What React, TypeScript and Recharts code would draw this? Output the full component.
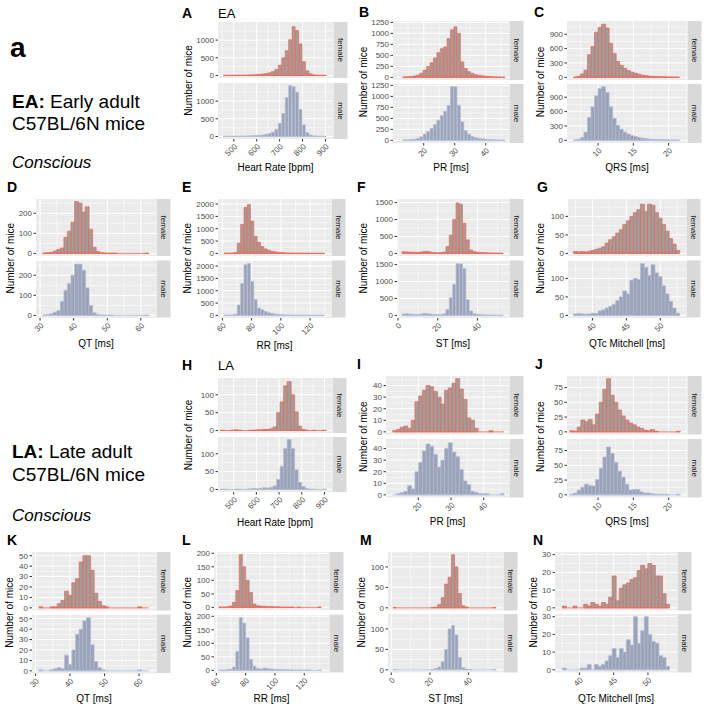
import React from "react";
import { BarChart, Bar, XAxis, YAxis, CartesianGrid, ReferenceLine } from "recharts";

// bin centres (ggplot, 30 bins) and counts
const hrEaBins = [462, 477, 492, 507, 522, 537, 552, 567, 582, 597, 612, 627, 642, 657, 672, 687, 702, 717, 732, 747, 762, 777, 792, 807, 822, 837, 852, 867, 882, 897];
const hrEaFemale = [4, 5, 5, 6, 8, 10, 12, 15, 18, 22, 30, 40, 55, 75, 110, 170, 290, 500, 700, 1010, 1380, 1270, 890, 390, 130, 45, 15, 8, 5, 3];
const hrEaMale = [4, 5, 5, 6, 8, 10, 12, 15, 20, 25, 32, 42, 58, 80, 120, 200, 370, 650, 1100, 1440, 1410, 1250, 760, 330, 110, 40, 15, 8, 5, 3];

const prEaBins = [13.8, 14.9, 16, 17.1, 18.2, 19.3, 20.4, 21.5, 22.6, 23.7, 24.8, 25.9, 27, 28.1, 29.2, 30.3, 31.4, 32.5, 33.6, 34.7, 35.8, 36.9, 38, 39.1, 40.2, 41.3, 42.4, 43.5, 44.6, 45.7];
const prEaFemale = [8, 12, 20, 30, 50, 95, 165, 245, 330, 440, 560, 650, 690, 880, 1080, 1150, 1000, 350, 200, 130, 90, 60, 45, 35, 25, 18, 12, 8, 5, 3];
const prEaMale = [8, 10, 15, 25, 45, 80, 140, 200, 270, 360, 460, 560, 660, 790, 1220, 1220, 800, 420, 220, 140, 90, 60, 45, 35, 25, 18, 12, 8, 5, 3];

const qrsEaBins = [6.75, 7.25, 7.75, 8.25, 8.75, 9.25, 9.75, 10.25, 10.75, 11.25, 11.75, 12.25, 12.75, 13.25, 13.75, 14.25, 14.75, 15.25, 15.75, 16.25, 16.75, 17.25, 17.75, 18.25, 18.75, 19.25, 19.75, 20.25, 20.75, 21.25];
const qrsEaFemale = [5, 20, 70, 150, 470, 640, 940, 1040, 1110, 1030, 710, 500, 330, 250, 190, 140, 110, 85, 65, 45, 35, 25, 20, 15, 12, 10, 8, 6, 5, 4];
const qrsEaMale = [5, 20, 60, 170, 480, 700, 930, 1080, 1120, 1000, 700, 460, 310, 230, 170, 130, 100, 80, 60, 45, 35, 25, 20, 15, 12, 10, 8, 6, 5, 4];

const qtEaBins = [31.33, 32.38, 33.43, 34.48, 35.53, 36.58, 37.63, 38.68, 39.73, 40.78, 41.83, 42.88, 43.93, 44.98, 46.03, 47.08, 48.13, 49.18, 50.23, 51.28, 52.33, 53.38, 54.43, 55.48, 56.53, 57.58, 58.63, 59.68, 60.73, 61.78];
const qtEaFemale = [2, 3, 5, 12, 20, 27, 80, 110, 155, 258, 250, 205, 232, 120, 30, 10, 4, 2, 1, 1, 1, 0, 0, 0, 0, 0, 0, 0, 0, 1];
const qtEaMale = [2, 4, 8, 16, 24, 70, 125, 158, 200, 255, 255, 225, 137, 50, 13, 5, 2, 1, 1, 1, 0, 0, 0, 0, 0, 0, 0, 0, 0, 1];

const rrEaBins = [62.15, 64.45, 66.75, 69.05, 71.35, 73.65, 75.95, 78.25, 80.55, 82.85, 85.15, 87.45, 89.75, 92.05, 94.35, 96.65, 98.95, 101.25, 103.55, 105.85, 108.15, 110.45, 112.75, 115.05, 117.35, 119.65, 121.95, 124.25, 126.55, 128.85];
const rrEaFemale = [5, 8, 15, 40, 415, 1170, 1860, 1980, 1310, 690, 455, 275, 180, 125, 85, 60, 40, 30, 20, 15, 12, 10, 8, 6, 5, 4, 3, 3, 2, 2];
const rrEaMale = [5, 8, 15, 50, 420, 1290, 2050, 2100, 1380, 640, 300, 230, 160, 110, 80, 55, 40, 30, 20, 15, 12, 10, 8, 6, 5, 4, 3, 3, 2, 2];

const stEaBins = [2.85, 4.55, 6.25, 7.95, 9.65, 11.35, 13.05, 14.75, 16.45, 18.15, 19.85, 21.55, 23.25, 24.95, 26.65, 28.35, 30.05, 31.75, 33.45, 35.15, 36.85, 38.55, 40.25, 41.95, 43.65, 45.35, 47.05, 48.75, 50.45, 52.15];
const stEaFemale = [50, 45, 40, 35, 30, 35, 55, 60, 45, 30, 20, 20, 40, 200, 540, 1000, 1490, 1450, 890, 400, 100, 50, 35, 25, 20, 15, 12, 10, 8, 6];
const stEaMale = [40, 50, 40, 30, 25, 40, 60, 55, 40, 25, 20, 20, 50, 180, 520, 910, 1530, 1520, 1380, 460, 130, 50, 35, 25, 18, 14, 10, 8, 6, 5];

const qtcEaBins = [37.46, 37.98, 38.5, 39.02, 39.54, 40.06, 40.58, 41.1, 41.62, 42.14, 42.66, 43.18, 43.7, 44.22, 44.74, 45.26, 45.78, 46.3, 46.82, 47.34, 47.86, 48.38, 48.9, 49.42, 49.94, 50.46, 50.98, 51.5, 52.02, 52.54];
const qtcEaFemale = [5, 4, 5, 4, 6, 8, 11, 14, 18, 28, 37, 45, 55, 64, 78, 88, 100, 110, 118, 133, 113, 133, 130, 110, 95, 78, 60, 40, 25, 8];
const qtcEaMale = [4, 5, 4, 3, 4, 6, 5, 12, 15, 20, 25, 30, 40, 50, 66, 58, 95, 100, 97, 140, 130, 108, 137, 115, 105, 80, 58, 38, 20, 6];

const hrLaBins = [448.75, 464.25, 479.75, 495.25, 510.75, 526.25, 541.75, 557.25, 572.75, 588.25, 603.75, 619.25, 634.75, 650.25, 665.75, 681.25, 696.75, 712.25, 727.75, 743.25, 758.75, 774.25, 789.75, 805.25, 820.75, 836.25, 851.75, 867.25, 882.75, 898.25];
const hrLaFemale = [1, 0, 0, 1, 2, 1, 0, 0, 1, 1, 2, 2, 3, 3, 5, 10, 50, 80, 125, 137, 100, 52, 12, 3, 1, 0, 1, 0, 0, 1];
const hrLaMale = [1, 1, 0, 0, 1, 1, 0, 1, 2, 3, 2, 3, 5, 4, 6, 10, 28, 65, 115, 140, 115, 55, 20, 8, 3, 1, 1, 0, 0, 1];

const prLaBins = [12.77, 13.9, 15.03, 16.16, 17.29, 18.42, 19.55, 20.68, 21.81, 22.94, 24.07, 25.2, 26.33, 27.46, 28.59, 29.72, 30.85, 31.98, 33.11, 34.24, 35.37, 36.5, 37.63, 38.76, 39.89, 41.02, 42.15, 43.28, 44.41, 45.54];
const prLaFemale = [1, 2, 4, 5, 3, 10, 26, 31, 36, 40, 39, 35, 30, 24, 36, 38, 42, 46, 37, 28, 12, 10, 3, 0, 0, 0, 1, 0, 0, 0];
const prLaMale = [0, 1, 2, 3, 8, 5, 20, 28, 38, 44, 42, 35, 24, 30, 40, 45, 37, 33, 22, 12, 9, 3, 2, 1, 1, 1, 0, 0, 0, 1];

const qrsLaBins = [6.26, 6.78, 7.3, 7.82, 8.34, 8.86, 9.38, 9.9, 10.42, 10.94, 11.46, 11.98, 12.5, 13.02, 13.54, 14.06, 14.58, 15.1, 15.62, 16.14, 16.66, 17.18, 17.7, 18.22, 18.74, 19.26, 19.78, 20.3, 20.82, 21.34];
const qrsLaFemale = [2, 1, 8, 20, 17, 21, 12, 30, 50, 72, 90, 62, 50, 37, 27, 20, 15, 12, 8, 6, 3, 2, 4, 1, 0, 0, 0, 0, 0, 1];
const qrsLaMale = [1, 3, 8, 13, 18, 16, 15, 26, 45, 64, 81, 70, 55, 40, 30, 18, 8, 9, 9, 5, 3, 3, 2, 1, 1, 1, 1, 0, 0, 1];

const qtLaBins = [31.53, 32.59, 33.65, 34.71, 35.77, 36.83, 37.89, 38.95, 40.01, 41.07, 42.13, 43.19, 44.25, 45.31, 46.37, 47.43, 48.49, 49.55, 50.61, 51.67, 52.73, 53.79, 54.85, 55.91, 56.97, 58.03, 59.09, 60.15, 61.21, 62.27];
const qtLaFemale = [1, 0, 0, 1, 1, 4, 7, 16, 12, 24, 28, 44, 50, 50, 36, 14, 6, 2, 1, 0, 0, 0, 0, 0, 0, 0, 0, 1, 0, 0];
const qtLaMale = [1, 0, 0, 1, 2, 3, 2, 15, 6, 20, 35, 40, 48, 51, 25, 9, 3, 1, 0, 0, 0, 0, 0, 0, 0, 0, 0, 1, 0, 0];

const rrLaBins = [62.77, 65.11, 67.45, 69.79, 72.13, 74.47, 76.81, 79.15, 81.49, 83.83, 86.17, 88.51, 90.85, 93.19, 95.53, 97.87, 100.21, 102.55, 104.89, 107.23, 109.57, 111.91, 114.25, 116.59, 118.93, 121.27, 123.61, 125.95, 128.29, 130.63];
const rrLaFemale = [1, 1, 2, 5, 18, 62, 195, 150, 100, 55, 12, 6, 5, 4, 3, 3, 2, 2, 1, 1, 1, 1, 0, 1, 0, 0, 0, 0, 0, 1];
const rrLaMale = [1, 1, 2, 4, 12, 70, 195, 175, 120, 40, 15, 7, 5, 8, 6, 5, 4, 3, 3, 2, 2, 2, 1, 1, 1, 1, 1, 0, 0, 1];

const stLaBins = [1.79, 3.57, 5.35, 7.13, 8.91, 10.69, 12.47, 14.25, 16.03, 17.81, 19.59, 21.37, 23.15, 24.93, 26.71, 28.49, 30.27, 32.05, 33.83, 35.61, 37.39, 39.17, 40.95, 42.73, 44.51, 46.29, 48.07, 49.85, 51.63, 53.41];
const stLaFemale = [1, 0, 0, 0, 0, 0, 0, 0, 0, 0, 0, 1, 2, 8, 25, 58, 75, 130, 100, 35, 5, 2, 0, 0, 0, 0, 0, 0, 0, 1];
const stLaMale = [1, 0, 0, 0, 0, 0, 0, 0, 0, 0, 0, 1, 3, 7, 20, 50, 100, 108, 85, 30, 5, 2, 1, 0, 0, 0, 0, 0, 0, 1];

const qtcLaBins = [37.76, 38.28, 38.8, 39.32, 39.84, 40.36, 40.88, 41.4, 41.92, 42.44, 42.96, 43.48, 44, 44.52, 45.04, 45.56, 46.08, 46.6, 47.12, 47.64, 48.16, 48.68, 49.2, 49.72, 50.24, 50.76, 51.28, 51.8, 52.32, 52.84];
const qtcLaFemale = [1, 0, 0, 1, 0, 0, 2, 1, 3, 2, 1, 3, 2, 6, 18, 4, 11, 13, 14, 16, 17, 21, 24, 22, 25, 24, 18, 18, 8, 2];
const qtcLaMale = [1, 0, 0, 0, 0, 1, 1, 3, 0, 3, 2, 3, 5, 8, 12, 7, 12, 10, 17, 14, 30, 15, 22, 30, 20, 16, 15, 8, 7, 2];

// axis ticks
const hrTicks = [500, 600, 700, 800, 900];
const prTicks = [20, 30, 40];
const qrsTicks = [10, 15, 20];
const qtTicks = [30, 40, 50, 60];
const rrTicks = [60, 80, 100, 120];
const stTicks = [0, 20, 40];
const qtcTicks = [40, 45, 50];

const Y_W = 30;
const PAD = 6;
const STRIP_W = 14;
const FONT = '"Liberation Sans", Arial, Helvetica, sans-serif';
const FEMALE = { fill: "#a29c9b", stroke: "#ee6452" };
const MALE = { fill: "#9ca3b7", stroke: "#b3bdda" };

type Panel = {
  letter: string;
  sub?: string;
  xTitle: string;
  bins: number[];
  female: number[];
  male: number[];
  xDomain: [number, number];
  xTicks: number[];
  yTicks: number[];
  bgX: number;
  bgW: number;
  top: number;
  fh: number;
  gap: number;
  letterX: number;
  letterY: number;
  yTitleX: number;
  titleY: number;
};

const panels: Panel[] = [
  { letter: "A", sub: "EA", xTitle: "Heart Rate [bpm]", bins: hrEaBins, female: hrEaFemale, male: hrEaMale, xDomain: [431, 933], xTicks: hrTicks, yTicks: [0, 500, 1000], bgX: 218, bgW: 115, top: 22, fh: 56, gap: 5, letterX: 182, letterY: 18, yTitleX: 188, titleY: 171 },
  { letter: "B", xTitle: "PR [ms]", bins: prEaBins, female: prEaFemale, male: prEaMale, xDomain: [10.1, 47.5], xTicks: prTicks, yTicks: [0, 250, 500, 750, 1000, 1250], bgX: 393, bgW: 116, top: 21, fh: 59, gap: 4, letterX: 359, letterY: 17, yTitleX: 363, titleY: 171 },
  { letter: "C", xTitle: "QRS [ms]", bins: qrsEaBins, female: qrsEaFemale, male: qrsEaMale, xDomain: [5.6, 22.6], xTicks: qrsTicks, yTicks: [0, 300, 600, 900], bgX: 567, bgW: 120, top: 21, fh: 59, gap: 4, letterX: 534, letterY: 17, yTitleX: 540, titleY: 171 },
  { letter: "D", xTitle: "QT [ms]", bins: qtEaBins, female: qtEaFemale, male: qtEaMale, xDomain: [28.8, 64.5], xTicks: qtTicks, yTicks: [0, 100, 200], bgX: 36, bgW: 120, top: 199, fh: 57, gap: 4.5, letterX: 7, letterY: 192, yTitleX: 10, titleY: 347 },
  { letter: "E", xTitle: "RR [ms]", bins: rrEaBins, female: rrEaFemale, male: rrEaMale, xDomain: [57, 134.3], xTicks: rrTicks, yTicks: [0, 500, 1000, 1500, 2000], bgX: 218, bgW: 113, top: 199, fh: 57, gap: 4.5, letterX: 182, letterY: 192, yTitleX: 187, titleY: 349 },
  { letter: "F", xTitle: "ST [ms]", bins: stEaBins, female: stEaFemale, male: stEaMale, xDomain: [-0.5, 55.8], xTicks: stTicks, yTicks: [0, 500, 1000, 1500], bgX: 397, bgW: 112, top: 199, fh: 57, gap: 4.5, letterX: 357, letterY: 192, yTitleX: 363, titleY: 347 },
  { letter: "G", xTitle: "QTc Mitchell [ms]", bins: qtcEaBins, female: qtcEaFemale, male: qtcEaMale, xDomain: [36.4, 53.8], xTicks: qtcTicks, yTicks: [0, 50, 100], bgX: 568, bgW: 118, top: 199, fh: 57, gap: 4.5, letterX: 537, letterY: 192, yTitleX: 540, titleY: 347 },
  { letter: "H", sub: "LA", xTitle: "Heart Rate [bpm]", bins: hrLaBins, female: hrLaFemale, male: hrLaMale, xDomain: [431, 933], xTicks: hrTicks, yTicks: [0, 50, 100], bgX: 218, bgW: 114, top: 378, fh: 55, gap: 4, letterX: 182, letterY: 370, yTitleX: 188, titleY: 526 },
  { letter: "I", xTitle: "PR [ms]", bins: prLaBins, female: prLaFemale, male: prLaMale, xDomain: [10.15, 47.7], xTicks: prTicks, yTicks: [0, 10, 20, 30, 40], bgX: 386, bgW: 123, top: 376, fh: 58.5, gap: 4.5, letterX: 357, letterY: 369, yTitleX: 363, titleY: 525 },
  { letter: "J", xTitle: "QRS [ms]", bins: qrsLaBins, female: qrsLaFemale, male: qrsLaMale, xDomain: [5.6, 22.6], xTicks: qrsTicks, yTicks: [0, 25, 50, 75], bgX: 567, bgW: 120, top: 376, fh: 58.5, gap: 4.5, letterX: 535, letterY: 369, yTitleX: 540, titleY: 525 },
  { letter: "K", xTitle: "QT [ms]", bins: qtLaBins, female: qtLaFemale, male: qtLaMale, xDomain: [29, 64.9], xTicks: qtTicks, yTicks: [0, 10, 20, 30, 40, 50], bgX: 32, bgW: 124, top: 552, fh: 58.5, gap: 4, letterX: 7, letterY: 545, yTitleX: 9, titleY: 702 },
  { letter: "L", xTitle: "RR [ms]", bins: rrLaBins, female: rrLaFemale, male: rrLaMale, xDomain: [58.4, 136.9], xTicks: rrTicks, yTicks: [0, 50, 100, 150, 200], bgX: 214, bgW: 115, top: 552, fh: 58, gap: 4.5, letterX: 182, letterY: 545, yTitleX: 187, titleY: 702 },
  { letter: "M", xTitle: "ST [ms]", bins: stLaBins, female: stLaFemale, male: stLaMale, xDomain: [-1.7, 57.8], xTicks: stTicks, yTicks: [0, 50, 100], bgX: 388, bgW: 115, top: 552, fh: 58.5, gap: 3.5, letterX: 360, letterY: 545, yTitleX: 361, titleY: 702 },
  { letter: "N", xTitle: "QTc Mitchell [ms]", bins: qtcLaBins, female: qtcLaFemale, male: qtcLaMale, xDomain: [36.44, 54.24], xTicks: qtcTicks, yTicks: [0, 10, 20, 30], bgX: 555, bgW: 122, top: 552, fh: 58.5, gap: 3.5, letterX: 533, letterY: 545, yTitleX: 533, titleY: 702 },
];

// minor grid lines half way between major ones, kept inside the domain
function minorOf(ticks: number[], domain: [number, number]): number[] {
  const step = ticks[1] - ticks[0];
  const out = [ticks[0] - step / 2];
  ticks.forEach((t) => out.push(t + step / 2));
  return out.filter((v) => v > domain[0] && v < domain[1]);
}

const RotTick = (props: any) => {
  const { x, y, payload } = props;
  return (
    <text x={x} y={y} dy="0.71em" textAnchor="end" transform={`rotate(-45 ${x} ${y})`} fontSize={8} fill="#4d4d4d">
      {payload.value}
    </text>
  );
};

function Facet({ p, counts, color, top, showX }: { p: Panel; counts: number[]; color: { fill: string; stroke: string }; top: number; showX: boolean }) {
  const data = p.bins.map((x, i) => ({ x, n: counts[i] }));
  const maxN = Math.max(...p.female, ...p.male);
  const yDomain: [number, number] = [-0.05 * maxN, 1.05 * maxN];
  const step = p.bins[1] - p.bins[0];
  const lo = p.bins[0] - step / 2;
  const hi = p.bins[p.bins.length - 1] + step / 2;
  const axisH = showX ? 26 : 0;
  const bottomPad = showX ? 0 : PAD;
  const w = p.bgW + Y_W;
  const h = PAD + p.fh + axisH + bottomPad;
  return (
    <div style={{ position: "absolute", left: p.bgX - Y_W, top: top - PAD, width: w, height: h }}>
      <BarChart width={w} height={h} data={data} margin={{ top: PAD, right: 0, bottom: bottomPad, left: 0 }} barCategoryGap={0} barGap={0}>
        <CartesianGrid fill="#ebebeb" fillOpacity={1} stroke="#ffffff" strokeWidth={1} horizontalValues={p.yTicks} verticalValues={p.xTicks} />
        <CartesianGrid stroke="#ffffff" strokeWidth={0.5} horizontalValues={minorOf(p.yTicks, yDomain)} verticalValues={minorOf(p.xTicks, p.xDomain)} />
        <XAxis
          dataKey="x"
          type="number"
          domain={p.xDomain}
          ticks={p.xTicks}
          interval={0}
          hide={!showX}
          height={axisH}
          allowDataOverflow
          axisLine={false}
          tickSize={2.5}
          tickMargin={1.5}
          tickLine={{ stroke: "#333333" }}
          tick={<RotTick />}
        />
        <YAxis
          type="number"
          domain={yDomain}
          ticks={p.yTicks}
          interval={0}
          width={Y_W}
          allowDataOverflow
          axisLine={false}
          tickSize={2.5}
          tickMargin={1.5}
          tickLine={{ stroke: "#333333" }}
          tick={{ fontSize: 8, fill: "#4d4d4d" }}
        />
        <ReferenceLine segment={[{ x: lo, y: 0 }, { x: hi, y: 0 }]} stroke={color.stroke} strokeWidth={0.8} />
        <Bar dataKey="n" fill={color.fill} stroke={color.stroke} strokeWidth={0.7} isAnimationActive={false} />
      </BarChart>
    </div>
  );
}

function PanelCharts({ p }: { p: Panel }) {
  return (
    <>
      <Facet p={p} counts={p.female} color={FEMALE} top={p.top} showX={false} />
      <Facet p={p} counts={p.male} color={MALE} top={p.top + p.fh + p.gap} showX={true} />
    </>
  );
}

function PanelText({ p }: { p: Panel }) {
  const stripX = p.bgX + p.bgW + 0.5;
  const maleTop = p.top + p.fh + p.gap;
  const midY = (p.top + maleTop + p.fh) / 2;
  return (
    <g>
      <text x={p.letterX} y={p.letterY} fontSize={14} fontWeight="bold" fill="#000">{p.letter}</text>
      {p.sub && <text x={p.bgX} y={p.letterY} fontSize={13} fill="#000">{p.sub}</text>}
      <text x={p.bgX + p.bgW / 2} y={p.titleY} fontSize={10} textAnchor="middle" fill="#000">{p.xTitle}</text>
      <text x={p.yTitleX} y={midY} fontSize={10} textAnchor="middle" dominantBaseline="central" transform={`rotate(-90 ${p.yTitleX} ${midY})`} fill="#000">
        Number of mice
      </text>
      {[{ t: p.top, label: "female" }, { t: maleTop, label: "male" }].map((s) => {
        const cx = stripX + STRIP_W / 2;
        const cy = s.t + p.fh / 2;
        return (
          <g key={s.label}>
            <rect x={stripX} y={s.t} width={STRIP_W} height={p.fh} fill="#d9d9d9" />
            <text x={cx} y={cy} fontSize={8} fill="#1a1a1a" textAnchor="middle" dominantBaseline="central" transform={`rotate(90 ${cx} ${cy})`}>
              {s.label}
            </text>
          </g>
        );
      })}
    </g>
  );
}

export default function App() {
  return (
    <div style={{ position: "absolute", left: 0, top: 0, width: 708, height: 708, background: "#ffffff", fontFamily: FONT, overflow: "hidden" }}>
      {panels.map((p) => (
        <PanelCharts key={p.letter} p={p} />
      ))}
      <svg width={708} height={708} style={{ position: "absolute", left: 0, top: 0, pointerEvents: "none", fontFamily: FONT }}>
        <text x={10} y={57} fontSize={28} fontWeight="bold">a</text>
        <text x={12} y={108} fontSize={19}>
          <tspan fontWeight="bold">EA:</tspan> Early adult
        </text>
        <text x={12} y={130} fontSize={19}>C57BL/6N mice</text>
        <text x={12} y={168} fontSize={17} fontStyle="italic">Conscious</text>
        <text x={12} y={458} fontSize={19}>
          <tspan fontWeight="bold">LA:</tspan> Late adult
        </text>
        <text x={12} y={481} fontSize={19}>C57BL/6N mice</text>
        <text x={12} y={521} fontSize={17} fontStyle="italic">Conscious</text>
        {panels.map((p) => (
          <PanelText key={p.letter} p={p} />
        ))}
      </svg>
    </div>
  );
}
